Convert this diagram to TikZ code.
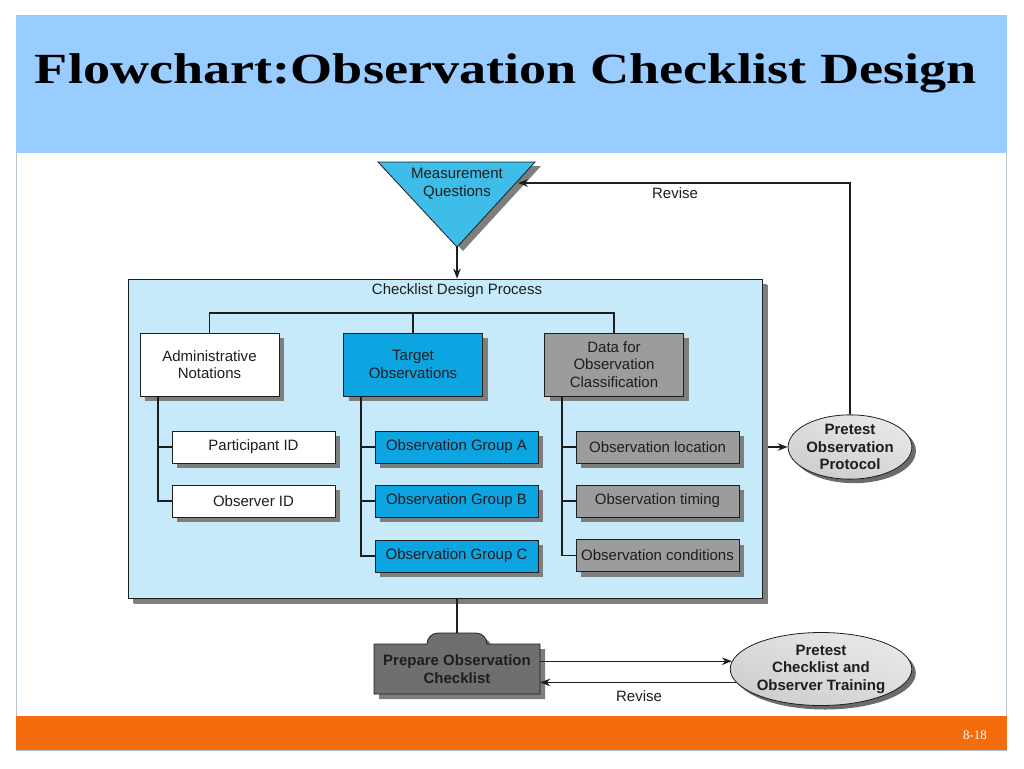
\documentclass[tikz,border=0pt]{standalone}
\usepackage{fontspec}
\setmainfont{Liberation Serif}
\newfontfamily\sansf{Liberation Sans}
\usetikzlibrary{arrows.meta,shapes.geometric,shadows,calc}
\definecolor{hdrblue}{HTML}{99CCFF}
\definecolor{footorange}{HTML}{F36C0E}
\definecolor{slideedge}{HTML}{B4C4D0}
\definecolor{triblue}{HTML}{3DBDE8}
\definecolor{tgtblue}{HTML}{0DA4E2}
\definecolor{procblue}{HTML}{C6EAF9}
\definecolor{datagray}{HTML}{9C9C9C}
\definecolor{shgray}{HTML}{7E7E7E}
\definecolor{ellfill}{HTML}{D6D6D6}
\definecolor{prepgray}{HTML}{6F6F6F}
\definecolor{inkc}{HTML}{1E1E1E}
\tikzset{
  txt/.style={font=\sansf\fontsize{15}{17.5}\selectfont, text=inkc, align=center},
  btxt/.style={font=\sansf\bfseries\fontsize{15}{17.5}\selectfont, text=inkc, align=center},
  solidshadow/.style={drop shadow={shadow xshift=5pt, shadow yshift=-5pt, opacity=1, fill=shgray}},
  boxbase/.style={txt, draw=inkc, line width=0.8pt, rectangle, inner sep=0pt, solidshadow},
  headbox/.style={boxbase, minimum width=139pt, minimum height=63pt},
  itembox/.style={boxbase, minimum width=163pt, minimum height=32pt},
  ellnode/.style={btxt, ellipse, draw=inkc, line width=0.8pt, inner sep=0pt,
     top color=ellfill!55!white, bottom color=ellfill!90!gray, shading angle=-20,
     drop shadow={shadow xshift=4pt, shadow yshift=-4pt, opacity=1, fill=shgray!85!black}},
  conn/.style={draw=inkc, line width=1.4pt},
  arr/.style={draw=inkc, line width=1.2pt, -{Stealth[length=10pt,width=7.5pt]}},
}
\begin{document}
\begin{tikzpicture}[x=1pt,y=-1pt]
\useasboundingbox (0,0) rectangle (1024,768);
% slide
\fill[white] (0,0) rectangle (1024,768);
\draw[slideedge, line width=1pt] (16.5,16) rectangle (1006.5,750);
\fill[hdrblue] (16,16) rectangle (1007,153);
\fill[footorange] (16,716) rectangle (1007,750);
\node[font=\bfseries\fontsize{43}{50}\selectfont, anchor=base] (title) at (506,83)
  {\scalebox{1.26}[1]{Flowchart:Observation Checklist Design}};
\node[font=\fontsize{13}{15}\selectfont, text=white, anchor=base] (pgnum) at (975,739) {8-18};

% triangle
\fill[shgray] (384,166) -- (541,166) -- (463,251) -- cycle;
\draw[fill=triblue, draw=inkc, line width=0.8pt] (378,162) -- (535,162) -- (457,247) -- cycle;
\node[txt] (mq) at (457,184) {Measurement\\Questions};
\coordinate (tri) at (457,247);
\coordinate (trirev) at (518,183);

% big process box
\node[boxbase, fill=procblue, minimum width=634pt, minimum height=319pt,
  drop shadow={shadow xshift=6pt, shadow yshift=-6pt, opacity=1, fill=shgray}] (proc) at (445,438.5) {};
\node[txt] (proclbl) at (457,291) {Checklist Design Process};

% head boxes
\node[headbox, fill=white] (adm) at (209.5,364.5) {Administrative\\Notations};
\node[headbox, fill=tgtblue] (tgt) at (413,364.5) {Target\\Observations};
\node[headbox, fill=datagray] (dat) at (614,364.5) {Data for\\Observation\\Classification};

% items
\node[itembox, fill=white] (pid) at (253.5,447) {Participant ID};
\node[itembox, fill=white] (oid) at (253.5,501) {Observer ID};
\node[itembox, fill=tgtblue] (ga) at (456.5,447) {Observation Group A};
\node[itembox, fill=tgtblue] (gb) at (456.5,501) {Observation Group B};
\node[itembox, fill=tgtblue] (gc) at (456.5,556) {Observation Group C};
\node[itembox, fill=datagray] (loc) at (657.5,447) {Observation location};
\node[itembox, fill=datagray] (tim) at (657.5,501) {Observation timing};
\node[itembox, fill=datagray] (cnd) at (657.5,555.5) {Observation conditions};

% tree connectors
\coordinate (bus) at (0,313);
\draw[conn] (adm.north) -- (adm.north |- bus) -- (dat.north |- bus) -- (dat.north);
\draw[conn] (tgt.north) -- (tgt.north |- bus);
\coordinate (lx) at (158,0);
\coordinate (mx) at (361,0);
\coordinate (rx) at (562,0);
\draw[conn] (lx |- adm.south) -- (lx |- oid.west) -- (oid.west);
\draw[conn] (lx |- pid.west) -- (pid.west);
\draw[conn] (mx |- tgt.south) -- (mx |- gc.west) -- (gc.west);
\draw[conn] (mx |- ga.west) -- (ga.west);
\draw[conn] (mx |- gb.west) -- (gb.west);
\draw[conn] (rx |- dat.south) -- (rx |- cnd.west) -- (cnd.west);
\draw[conn] (rx |- loc.west) -- (loc.west);
\draw[conn] (rx |- tim.west) -- (tim.west);

% pretest observation protocol
\node[ellnode, minimum width=115pt, minimum height=60pt] (ppo) at (850,447) {Pretest\\Observation\\Protocol};
\draw[arr] (tri) -- (tri |- proc.north);
\draw[arr] (proc.east |- ppo.west) ++(6,0) -- (ppo.west);
\draw[arr] (ppo.north) -- (ppo.north |- trirev) -- (trirev);
\node[txt] (rev1) at (675,193) {Revise};

% prepare checklist
\fill[shgray] (379,649) -- (432,649) to[out=90,in=180] (443,638) -- (481,638) to[out=0,in=90] (492,649) -- (545,649) -- (545,699) -- (379,699) -- cycle;
\draw[fill=prepgray, draw=inkc, line width=0.8pt] (374,644) -- (427,644) to[out=90,in=180] (438,633) -- (476,633) to[out=0,in=90] (487,644) -- (540,644) -- (540,694) -- (374,694) -- cycle;
\node[btxt, minimum width=166pt, minimum height=50pt, inner sep=0pt] (prep) at (457,669) {Prepare Observation\\Checklist};
\coordinate (tabtop) at (457,633);
\draw[conn] (tabtop) -- (tabtop |- proc.south) ++(0,6);

\node[ellnode, minimum width=177pt, minimum height=73pt] (pcot) at (821,669) {Pretest\\Checklist and\\Observer Training};
\draw[arr] (prep.east |- pcot.175) -- (pcot.175);
\draw[arr] (pcot.189) -- (prep.east |- pcot.189);
\node[txt] (rev2) at (639,696) {Revise};
\end{tikzpicture}
\end{document}
